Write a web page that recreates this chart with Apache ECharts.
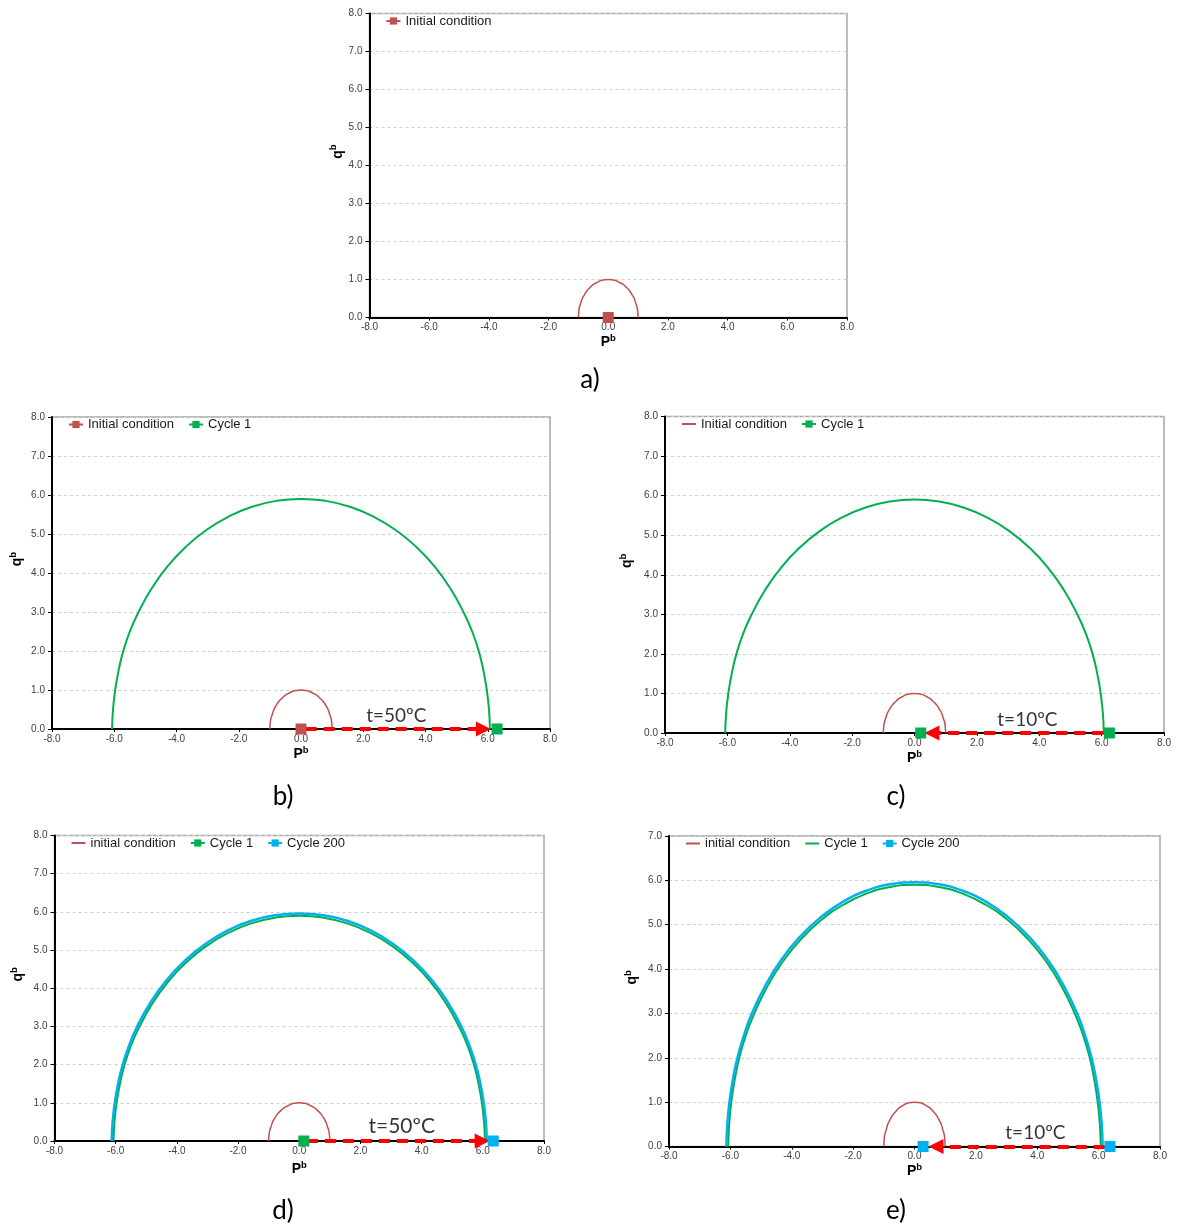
<!DOCTYPE html>
<html><head><meta charset="utf-8">
<script src="https://cdn.jsdelivr.net/npm/echarts@6/dist/echarts.min.js"></script>
<style>html,body{margin:0;padding:0;background:#fff}#c{width:1178px;height:1227px}</style>
</head><body><div id="c"></div>
<script>
// ---- tick values ----
const xTickValues = [-8, -6, -4, -2, 0, 2, 4, 6, 8];
const yTickValues8 = [0, 1, 2, 3, 4, 5, 6, 7, 8];
const yTickValues7 = [0, 1, 2, 3, 4, 5, 6, 7];

// ---- initial condition (small semicircle) ----
const initX = [-1.0, -0.99, -0.97, -0.92, -0.87, -0.79, -0.71, -0.61, -0.5, -0.38, -0.26, -0.13, 0,
               0.13, 0.26, 0.38, 0.5, 0.61, 0.71, 0.79, 0.87, 0.92, 0.97, 0.99, 1.0];
const initY = [0, 0.13, 0.26, 0.38, 0.5, 0.61, 0.71, 0.79, 0.87, 0.92, 0.97, 0.99, 1.0,
               0.99, 0.97, 0.92, 0.87, 0.79, 0.71, 0.61, 0.5, 0.38, 0.26, 0.13, 0];

// ---- cycle 1 ----
const cyc1X = [-6.07, -6.04, -5.97, -5.86, -5.71, -5.50, -5.25, -4.81, -4.29, -3.69, -3.03, -2.32, -1.57, -0.79, 0,
               0.79, 1.57, 2.32, 3.03, 3.69, 4.29, 4.81, 5.25, 5.50, 5.71, 5.86, 5.97, 6.04, 6.07];
const cyc1Y = [0, 0.5, 1.0, 1.5, 2.0, 2.5, 2.95, 3.59, 4.17, 4.68, 5.11, 5.45, 5.70, 5.85, 5.9,
               5.85, 5.70, 5.45, 5.11, 4.68, 4.17, 3.59, 2.95, 2.5, 2.0, 1.5, 1.0, 0.5, 0];

// ---- cycle 200 ----
const cyc200X = [-6.13, -6.10, -6.03, -5.92, -5.77, -5.56, -5.31, -4.86, -4.34, -3.73, -3.07, -2.35, -1.59, -0.80, 0,
                 0.80, 1.59, 2.35, 3.07, 3.73, 4.34, 4.86, 5.31, 5.56, 5.77, 5.92, 6.03, 6.10, 6.13];
const cyc200Y = [0, 0.5, 1.0, 1.5, 2.0, 2.5, 2.98, 3.63, 4.21, 4.73, 5.16, 5.51, 5.76, 5.91, 5.96,
                 5.91, 5.76, 5.51, 5.16, 4.73, 4.21, 3.63, 2.98, 2.5, 2.0, 1.5, 1.0, 0.5, 0];

// ---- point markers (p, q) ----
const initMarkA = [[0, 0]];
const initMarkB = [[0, 0]];
const cyc1MarkB = [[6.3, 0]];
const cyc1MarkC = [[0.2, 0], [6.25, 0]];
const cyc1MarkD = [[0.15, 0]];
const cyc200MarkD = [[6.34, 0]];
const cyc200MarkE = [[0.28, 0], [6.37, 0]];

// ---- arrows (from p, to p) and temperature labels ----
const arrowB = [0.15, 5.86];
const arrowC = [6.05, 0.56];
const arrowD = [0.25, 5.98];
const arrowE = [6.2, 0.7];
const tempLabelB = [3.06, 't=50ºC'];
const tempLabelC = [3.62, 't=10ºC'];
const tempLabelD = [3.35, 't=50ºC'];
const tempLabelE = [3.94, 't=10ºC'];

const panelLetters = ['a)', 'b)', 'c)', 'd)', 'e)'];

// ---- layout ----
const layouts = [
  {left: 369.5, top: 13.5, width: 477.5, height: 304, yTicks: yTickValues8, xGap: 14, yGap: 22.5, letter: [590, 380]},
  {left: 52, top: 417, width: 498, height: 312, yTicks: yTickValues8, xGap: 14, yGap: 26, letter: [283, 797]},
  {left: 665, top: 416.5, width: 499, height: 316.5, yTicks: yTickValues8, xGap: 15, yGap: 29, letter: [896, 797]},
  {left: 54.5, top: 835.5, width: 489.5, height: 305.5, yTicks: yTickValues8, xGap: 19, yGap: 27.5, letter: [283, 1211]},
  {left: 669, top: 836, width: 491, height: 310.5, yTicks: yTickValues7, xGap: 15, yGap: 28, letter: [896, 1211]}
];

const RED = '#C0504D', GREEN = '#00B050', BLUE = '#00B0F0', ARROW = '#FF0000';
const pairs = (xs, ys) => xs.map((x, i) => [x, ys[i]]);
const fmt = v => v.toFixed(1);
const nameRich = {
  m: {fontSize: 14, fontWeight: 'bold', color: '#000', fontFamily: 'Liberation Sans', lineHeight: 18},
  s: {fontSize: 9.5, fontWeight: 'bold', color: '#000', fontFamily: 'Liberation Sans', lineHeight: 11, verticalAlign: 'top'}
};

const grids = [], xAxes = [], yAxes = [], legends = [], graphics = [];
layouts.forEach((L, i) => {
  grids.push({left: L.left, top: L.top, width: L.width, height: L.height, show: true,
    borderColor: '#A6A6A6', borderWidth: 1.5, backgroundColor: 'transparent', containLabel: false});
  xAxes.push({type: 'value', gridIndex: i, min: xTickValues[0], max: xTickValues[xTickValues.length - 1],
    interval: xTickValues[1] - xTickValues[0],
    axisLine: {show: true, onZero: false, lineStyle: {color: '#000', width: 2}},
    axisTick: {show: true, length: 3, lineStyle: {color: '#000', width: 1}},
    axisLabel: {formatter: fmt, fontSize: 10, color: '#404040', margin: 5, fontFamily: 'Liberation Sans', showMinLabel: true, showMaxLabel: true},
    splitLine: {show: false},
    name: '{m|P}{s|b}', nameLocation: 'middle', nameGap: L.xGap,
    nameTextStyle: {rich: nameRich}});
  yAxes.push({type: 'value', gridIndex: i, min: L.yTicks[0], max: L.yTicks[L.yTicks.length - 1], interval: 1,
    axisLine: {show: true, onZero: false, lineStyle: {color: '#000', width: 2}},
    axisTick: {show: true, length: 4, lineStyle: {color: '#000', width: 1}},
    axisLabel: {formatter: fmt, fontSize: 10, color: '#404040', margin: 7, fontFamily: 'Liberation Sans', showMinLabel: true, showMaxLabel: true},
    splitLine: {show: true, lineStyle: {color: '#D0D0D0', width: 1, type: [3, 3]}},
    name: '{m|q}{s|b}', nameLocation: 'middle', nameGap: L.yGap,
    nameTextStyle: {rich: nameRich, padding: [0, 0, 0, 28]}});
  graphics.push({type: 'text', x: L.letter[0], y: L.letter[1],
    style: {text: panelLetters[i], fontSize: 26, fontFamily: 'Lato', fill: '#000', textAlign: 'center', textVerticalAlign: 'middle'}});
});

const series = [];
function curve(i, name, xs, ys, color, width, symbol) {
  series.push({type: 'line', name, xAxisIndex: i, yAxisIndex: i, data: pairs(xs, ys), smooth: 0.5,
    symbol, symbolSize: 10, showSymbol: false, lineStyle: {color, width}, itemStyle: {color},
    clip: false, silent: true, z: 2});
}
function markers(i, name, pts, color) {
  series.push({type: 'scatter', name, xAxisIndex: i, yAxisIndex: i, data: pts, symbol: 'rect', symbolSize: 11,
    itemStyle: {color, opacity: 1}, clip: false, silent: true, z: 4});
}
function arrow(i, a) {
  series.push({type: 'line', name: 'arrow' + i, xAxisIndex: i, yAxisIndex: i, data: [], silent: true,
    markLine: {silent: true, z: 3, animation: false, symbol: ['none', 'triangle'], symbolSize: 15,
      label: {show: false}, lineStyle: {color: ARROW, width: 4, type: [11, 7], opacity: 1},
      data: [[{coord: [a[0], 0]}, {coord: [a[1], 0]}]]}});
}
function tempLabel(i, t, fs) {
  series.push({type: 'scatter', name: 'label' + i, xAxisIndex: i, yAxisIndex: i, data: [[t[0], 0]], symbolSize: 0,
    silent: true, clip: false, z: 6,
    label: {show: true, position: 'top', distance: 4, formatter: t[1], fontSize: fs, fontFamily: 'Lato', color: '#000'}});
}

// a)
curve(0, 'Initial condition', initX, initY, RED, 1.5, 'rect');
markers(0, 'Initial condition', initMarkA, RED);
// b)
curve(1, 'Initial condition', initX, initY, RED, 1.5, 'rect');
curve(1, 'Cycle 1', cyc1X, cyc1Y, GREEN, 2, 'rect');
arrow(1, arrowB);
markers(1, 'Initial condition', initMarkB, RED);
markers(1, 'Cycle 1', cyc1MarkB, GREEN);
tempLabel(1, tempLabelB, 19);
// c)
curve(2, 'Initial condition', initX, initY, RED, 1.5, 'rect');
curve(2, 'Cycle 1', cyc1X, cyc1Y, GREEN, 2, 'rect');
arrow(2, arrowC);
markers(2, 'Cycle 1', cyc1MarkC, GREEN);
tempLabel(2, tempLabelC, 19);
// d)
curve(3, 'initial condition', initX, initY, RED, 1.5, 'none');
curve(3, 'Cycle 1', cyc1X, cyc1Y, GREEN, 2, 'rect');
curve(3, 'Cycle 200', cyc200X, cyc200Y, BLUE, 2.5, 'rect');
arrow(3, arrowD);
markers(3, 'Cycle 1', cyc1MarkD, GREEN);
markers(3, 'Cycle 200', cyc200MarkD, BLUE);
tempLabel(3, tempLabelD, 21);
// e)
curve(4, 'initial condition', initX, initY, RED, 1.5, 'none');
curve(4, 'Cycle 1', cyc1X, cyc1Y, GREEN, 2, 'rect');
curve(4, 'Cycle 200', cyc200X, cyc200Y, BLUE, 2.5, 'rect');
arrow(4, arrowE);
markers(4, 'Cycle 200', cyc200MarkE, BLUE);
tempLabel(4, tempLabelE, 19);

const hide = {opacity: 0};
const legendData = [
  ['Initial condition'],
  ['Initial condition', 'Cycle 1'],
  [{name: 'Initial condition', itemStyle: hide}, 'Cycle 1'],
  [{name: 'initial condition', itemStyle: hide}, 'Cycle 1', 'Cycle 200'],
  [{name: 'initial condition', itemStyle: hide}, {name: 'Cycle 1', itemStyle: hide}, 'Cycle 200']
];
layouts.forEach((L, i) => {
  legends.push({left: L.left + 16, top: L.top + 1, padding: 0, itemWidth: 14, itemHeight: 9, itemGap: 14,
    selectedMode: false, data: legendData[i],
    textStyle: {fontSize: 13, color: '#1a1a1a', fontFamily: 'Liberation Sans'}});
});

const chart = echarts.init(document.getElementById('c'), null, {renderer: 'canvas', width: 1178, height: 1227});
chart.setOption({
  backgroundColor: '#fff',
  animation: false,
  grid: grids, xAxis: xAxes, yAxis: yAxes, legend: legends, series, graphic: graphics
});
</script></body></html>
